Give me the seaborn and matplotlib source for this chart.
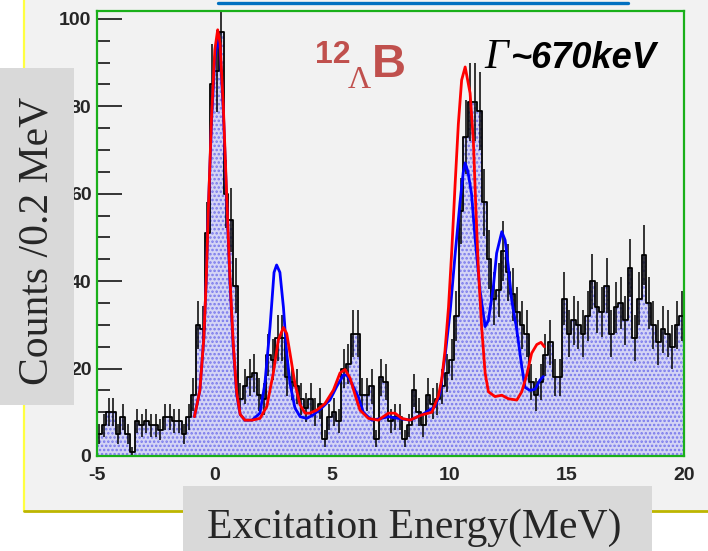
import numpy as np
import pandas as pd
import matplotlib
matplotlib.use("Agg")
import matplotlib.pyplot as plt
from matplotlib.patches import Rectangle
from matplotlib.lines import Line2D
from matplotlib.ticker import MultipleLocator
import seaborn as sns

sns.set_style("ticks")
plt.rcParams["font.family"] = ["Liberation Sans", "DejaVu Sans"]
plt.rcParams["hatch.linewidth"] = 1.2
plt.rcParams["axes.unicode_minus"] = False

# Excitation-energy spectrum, 0.2 MeV bins from -5 to 20 MeV
bin_lo, bin_hi, bin_w = -5.0, 20.0, 0.2
counts = [
    5, 7, 10, 10, 5, 9, 5, 1, 8, 7,
    8, 7, 7, 6, 9, 9, 8, 8, 5, 9,
    14, 30, 29, 51, 85, 88, 97, 60, 54, 39,
    13, 16, 18, 19, 14, 13, 23, 22, 27, 27,
    18, 17, 16, 13, 11, 13, 10, 12, 4, 9,
    10, 8, 20, 21, 28, 28, 14, 14, 16, 4,
    18, 17, 8, 9, 9, 4, 7, 15, 10, 7,
    14, 12, 13, 16, 19, 22, 32, 56, 73, 81,
    81, 79, 58, 45, 36, 38, 47, 42, 37, 33,
    30, 28, 17, 14, 17, 23, 26, 18, 18, 36,
    28, 31, 30, 28, 32, 40, 34, 33, 39, 28,
    34, 35, 31, 43, 27, 36, 46, 35, 30, 26,
    29, 28, 25, 30, 32,
]

# Fitted spectra (red and blue model curves)
red_e = [-0.85, -0.62, -0.45, -0.35, -0.26, -0.12, 0.02, 0.14, 0.24, 0.38,
         0.52, 0.66, 0.8, 0.95, 1.1, 1.3, 1.6, 1.94, 2.23, 2.51,
         2.72, 2.94, 3.08, 3.22, 3.43, 3.65, 3.86, 4.07, 4.36, 4.71,
         5.07, 5.35, 5.56, 5.78, 5.99, 6.2, 6.56, 6.98, 7.41, 7.69,
         7.98, 8.33, 8.83, 9.26, 9.54, 9.68, 9.82, 9.97, 10.11, 10.25,
         10.39, 10.53, 10.68, 10.89, 11.03, 11.14, 11.24, 11.38, 11.53, 11.67,
         11.95, 12.24, 12.52, 12.88, 13.09, 13.3, 13.51, 13.73, 13.91, 14.05]
red_y = [9, 15, 27, 40, 56, 78, 93, 97.5, 94.5, 80,
         60, 41, 26, 14.5, 9.5, 8.2, 8.2, 8.6, 11.3, 19,
         26.5, 29.4, 28, 23.5, 16.6, 11.7, 9.8, 9.8, 10.5, 12,
         15.1, 19, 19.8, 17.8, 14, 10.5, 8.6, 8.2, 9.8, 9.8,
         8.6, 8.2, 9.4, 10, 13.7, 17.5, 24, 34, 47, 62,
         76, 86, 89, 83, 72, 56, 43, 29.6, 19, 14.7,
         13.6, 13.9, 13.1, 12.8, 14.7, 18.5, 23.5, 25.5, 26, 25]

blue_e = [-0.85, -0.62, -0.45, -0.35, -0.26, -0.12, 0.02, 0.14, 0.24, 0.38,
          0.52, 0.66, 0.8, 0.95, 1.1, 1.3, 1.6, 1.94, 2.15, 2.37,
          2.54, 2.65, 2.79, 2.94, 3.08, 3.22, 3.43, 3.65, 3.93, 4.21,
          4.57, 4.92, 5.21, 5.49, 5.64, 5.85, 6.13, 6.34, 6.7, 7.12,
          7.41, 7.83, 8.33, 8.83, 9.4, 9.61, 9.82, 10.04, 10.25, 10.46,
          10.6, 10.68, 10.8, 10.95, 11.1, 11.31, 11.53, 11.67, 11.88, 12.02,
          12.24, 12.38, 12.52, 12.66, 12.88, 13.09, 13.23, 13.44, 13.66, 13.87,
          14.01]
blue_y = [9, 15, 27, 40, 56, 77, 91, 95.5, 93, 79,
          59, 40, 25, 14, 9.5, 8.2, 8.2, 9.8, 16.6, 29.6,
          42, 43.7, 42, 34, 23.5, 16.6, 11, 9, 8.6, 9.4,
          11, 12.8, 15.9, 18.5, 18.5, 16.6, 13.5, 10, 8.2, 8.6,
          9, 8.6, 8.2, 9.4, 11.3, 14.3, 22.7, 33, 46, 58,
          65, 67, 65, 60, 50, 38, 29.6, 31, 38.7, 46.4,
          51.3, 49.4, 43.3, 35.7, 28.8, 20.5, 15.7, 15, 15.3, 17.4,
          18.2]

x_ticks = [-5, 0, 5, 10, 15, 20]
y_ticks = [0, 20, 40, 60, 80, 100]

W, H = 708, 551
fig = plt.figure(figsize=(W / 100, H / 100), dpi=100)
fig.patch.set_facecolor("white")


def fx(px):
    return px / W


def fy(py):
    return 1 - py / H


# slide panel behind the plot
fig.add_artist(Rectangle((fx(24), fy(511)), 1 - fx(24), 1 - fy(511),
                         transform=fig.transFigure, facecolor="#f2f2f2",
                         edgecolor="none", zorder=-2))
fig.add_artist(Line2D([fx(24), fx(24)], [fy(511), 1], transform=fig.transFigure,
                      color="#ffff40", lw=1.6, zorder=-1))
fig.add_artist(Line2D([fx(24), 1], [fy(511), fy(511)], transform=fig.transFigure,
                      color="#bdb600", lw=2.0, zorder=-1))
fig.add_artist(Line2D([fx(218), fx(628)], [fy(3), fy(3)], transform=fig.transFigure,
                      color="#0070c0", lw=2.4, zorder=-1))

ax = fig.add_axes([fx(97), fy(456), fx(684) - fx(97), fy(11) - fy(456)])
ax.set_facecolor("#f2f2f2")

edges = np.arange(bin_lo, bin_hi + bin_w / 2, bin_w)
centers = edges[:-1] + bin_w / 2
spec = pd.DataFrame({"energy": centers, "counts": np.asarray(counts, dtype=float)})
hist_kw = dict(data=spec, x="energy", weights="counts", binwidth=bin_w,
               binrange=(bin_lo, bin_hi), element="step", ax=ax)

# dotted fill
sns.histplot(fill=True, facecolor="#d4d4f5", edgecolor="#7878ec", hatch="....",
             linewidth=0, zorder=1, **hist_kw)
# black step outline
sns.histplot(fill=False, color="black", linewidth=1.3, zorder=2, **hist_kw)
ax.errorbar(spec["energy"], spec["counts"], yerr=np.sqrt(spec["counts"]), fmt="none",
            ecolor="black", elinewidth=1.1, zorder=2)

sns.lineplot(x=blue_e, y=blue_y, color="#0000ff", linewidth=2.0, sort=False,
             estimator=None, ax=ax, zorder=3)
sns.lineplot(x=red_e, y=red_y, color="#ff0000", linewidth=2.0, sort=False,
             estimator=None, ax=ax, zorder=4)

ax.set_xlim(bin_lo, bin_hi)
ax.set_ylim(0, 101.8)
ax.set_xlabel("")
ax.set_ylabel("")
ax.set_xticks(x_ticks)
ax.set_yticks(y_ticks)
ax.xaxis.set_minor_locator(MultipleLocator(1))
ax.yaxis.set_minor_locator(MultipleLocator(5))
ax.tick_params(axis="y", which="major", direction="in", length=18, width=1.3,
               pad=4, labelsize=14)
ax.tick_params(axis="y", which="minor", direction="in", length=9, width=1.3)
ax.tick_params(axis="x", which="major", direction="in", length=12, width=1.3,
               pad=8, labelsize=14)
ax.tick_params(axis="x", which="minor", direction="in", length=6, width=1.3)
for t in ax.get_xticklabels() + ax.get_yticklabels():
    t.set_fontweight("bold")
for side in ["left", "bottom", "right", "top"]:
    ax.spines[side].set_visible(True)
    ax.spines[side].set_color("#1ab01a")
    ax.spines[side].set_linewidth(1.6)

# axis label boxes
fig.add_artist(Rectangle((0, fy(405)), fx(74), fy(68) - fy(405), transform=fig.transFigure,
                         facecolor="#d9d9d9", edgecolor="none", zorder=5))
fig.add_artist(Rectangle((fx(183), 0), fx(652) - fx(183), fy(486), transform=fig.transFigure,
                         facecolor="#d9d9d9", edgecolor="none", zorder=5))
fig.text(fx(37), fy(241), "Counts /0.2 MeV", rotation=90, ha="center", va="center",
         family="Liberation Serif", fontsize=30, zorder=6)
fig.text(fx(414), fy(528), "Excitation Energy(MeV)", ha="center", va="center",
         family="Liberation Serif", fontsize=30, zorder=6)

# hypernucleus label
hyp_color = "#c0504d"
fig.text(fx(315), fy(63), "12", ha="left", va="baseline", color=hyp_color,
         fontsize=23, fontweight="bold", family="Liberation Sans", zorder=6)
fig.text(fx(348), fy(88), "Λ", ha="left", va="baseline", color=hyp_color,
         fontsize=23, family="Liberation Serif", zorder=6)
fig.text(fx(372), fy(77), "B", ha="left", va="baseline", color=hyp_color,
         fontsize=34, fontweight="bold", family="Liberation Sans", zorder=6)

# width annotation
fig.text(fx(484), fy(68), "Γ", ha="left", va="baseline", color="black",
         fontsize=30, style="italic", family="Liberation Serif", zorder=6)
fig.text(fx(511), fy(68), "~670keV", ha="left", va="baseline", color="black",
         fontsize=26, style="italic", fontweight="bold", family="Liberation Sans", zorder=6)

fig.savefig("out.png", dpi=100, facecolor=fig.get_facecolor())
